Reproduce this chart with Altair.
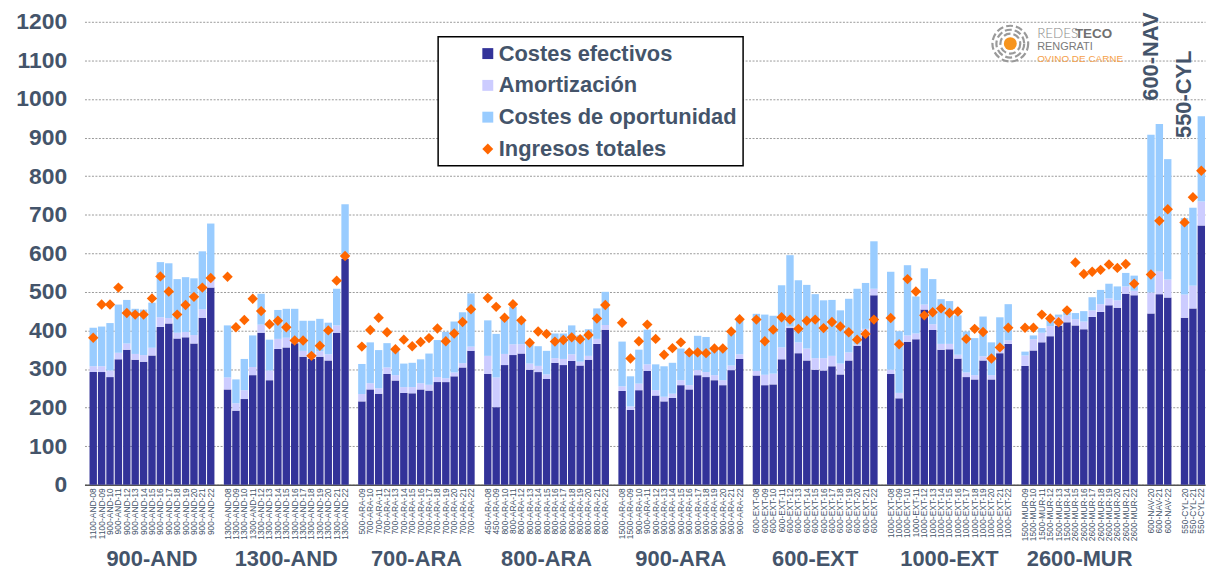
import altair as alt
import pandas as pd

# ---------------- data ----------------
grupos = ["900-AND", "1300-AND", "700-ARA", "800-ARA", "900-ARA",
          "600-EXT", "1000-EXT", "2600-MUR", "600-NAV", "550-CYL"]

cat_900_AND = ["1100-AND-08", "1100-AND-09"] + [f"900-AND-{a}" for a in range(10, 23)]
cat_1300_AND = [f"1300-AND-{a:02d}" for a in range(8, 23)]
cat_700_ARA = ["500-ARA-09"] + [f"700-ARA-{a}" for a in range(10, 23)]
cat_800_ARA = ["450-ARA-08", "450-ARA-09"] + [f"800-ARA-{a}" for a in range(10, 23)]
cat_900_ARA = ["1500-ARA-08", "1500-ARA-09"] + [f"900-ARA-{a}" for a in range(10, 23)]
cat_600_EXT = [f"600-EXT-{a:02d}" for a in range(8, 23)]
cat_1000_EXT = [f"1000-EXT-{a:02d}" for a in range(8, 23)]
cat_2600_MUR = [f"1500-MUR-{a:02d}" for a in range(9, 15)] + [f"2600-MUR-{a}" for a in range(15, 23)]
cat_600_NAV = ["600-NAV-20", "600-NAV-21", "600-NAV-22"]
cat_550_CYL = ["550-CYL-20", "550-CYL-21", "550-CYL-22"]

costes_efectivos = [
    292, 292, 279, 325, 350, 324, 319, 335, 409, 418, 379, 382, 366, 433, 511,
    247, 192, 222, 284, 394, 271, 352, 356, 367, 332, 326, 332, 322, 394, 585,
    216, 247, 236, 287, 270, 238, 237, 247, 244, 266, 266, 281, 304, 347,
    287, 201, 310, 336, 340, 298, 292, 274, 316, 310, 321, 309, 324, 365, 402,
    243, 194, 245, 295, 231, 216, 225, 258, 247, 284, 279, 271, 258, 297, 326,
    283, 258, 260, 325, 406, 341, 322, 298, 296, 307, 286, 322, 360, 387, 491,
    287, 224, 370, 377, 454, 401, 350, 351, 327, 279, 273, 322, 273, 341, 365,
    308, 348, 369, 385, 412, 421, 413, 403, 435, 448, 465, 459, 495, 491,
    444, 494, 485,
    433, 457, 672,
]

amortizacion = [
    15, 15, 17, 17, 16, 15, 17, 20, 25, 14, 15, 14, 22, 22, 17,
    31, 19, 23, 21, 21, 25, 26, 25, 6, 15, 15, 14, 16, 19, 8,
    19, 16, 14, 17, 14, 15, 16, 16, 15, 13, 10, 10, 11, 11,
    47, 77, 29, 28, 24, 16, 16, 12, 12, 16, 17, 10, 10, 13, 12,
    12, 9, 17, 17, 14, 12, 11, 13, 11, 13, 13, 13, 13, 12, 12,
    12, 27, 28, 31, 4, 28, 31, 30, 32, 27, 28, 21, 4, 17, 17,
    11, 14, 17, 15, 13, 15, 15, 14, 10, 12, 11, 11, 11, 9, 9,
    27, 29, 25, 26, 23, 18, 16, 20, 17, 20, 18, 19, 19, 12,
    54, 59, 47,
    60, 59, 62,
]

costes_oportunidad = [
    100, 103, 123, 125, 113, 117, 118, 117, 143, 142, 139, 142, 147, 150, 149,
    135, 62, 81, 82, 80, 80, 75, 75, 83, 78, 84, 84, 82, 95, 134,
    78, 106, 99, 63, 65, 61, 63, 62, 81, 96, 120, 132, 132, 138,
    92, 113, 94, 97, 58, 51, 51, 61, 64, 66, 75, 68, 69, 79, 86,
    116, 78, 88, 90, 67, 79, 80, 82, 83, 89, 91, 73, 86, 82, 88,
    148, 156, 150, 161, 185, 161, 165, 166, 150, 145, 138, 139, 144, 119, 123,
    254, 160, 182, 96, 94, 117, 116, 111, 102, 106, 96, 103, 85, 84, 94,
    10, 10, 12, 15, 6, 13, 16, 27, 34, 37, 38, 36, 35, 39,
    409, 382, 312,
    198, 202, 221,
]

ingresos_totales = [
    381, 467, 467, 511, 445, 441, 441, 483, 540, 501, 441, 466, 487, 511, 536,
    539, 408, 427, 482, 450, 416, 425, 408, 374, 374, 334, 360, 400, 529, 593,
    358, 401, 433, 395, 351, 376, 359, 370, 380, 405, 372, 392, 422, 455,
    484, 461, 433, 468, 426, 368, 397, 391, 371, 375, 382, 377, 388, 431, 466,
    420, 327, 372, 415, 378, 337, 354, 369, 343, 343, 341, 353, 353, 397, 429,
    428, 372, 402, 434, 428, 404, 425, 428, 406, 422, 410, 395, 376, 391, 428,
    432, 364, 533, 501, 439, 447, 457, 445, 449, 378, 404, 396, 327, 356, 407,
    407, 407, 441, 431, 421, 452, 576, 546, 552, 557, 571, 562, 572, 521,
    545, 684, 714,
    680, 745, 814,
]

series = ["Costes efectivos", "Amortización", "Costes de oportunidad", "Ingresos totales"]
colores = ["#333399", "#CCCCFF", "#99CCFF", "#FF6600"]

# ---------------- tables ----------------
listas = [cat_900_AND, cat_1300_AND, cat_700_ARA, cat_800_ARA, cat_900_ARA,
          cat_600_EXT, cat_1000_EXT, cat_2600_MUR, cat_600_NAV, cat_550_CYL]
dominio_x = []
categorias = []
for i, lst in enumerate(listas):
    if i > 0:
        dominio_x.append(f"gap{i}")
    dominio_x += lst
    categorias += lst

filas = []
for i, c in enumerate(categorias):
    filas.append({"cat": c, "serie": series[0], "valor": costes_efectivos[i], "orden": 0})
    filas.append({"cat": c, "serie": series[1], "valor": amortizacion[i], "orden": 1})
    filas.append({"cat": c, "serie": series[2], "valor": costes_oportunidad[i], "orden": 2})
df_bar = pd.DataFrame(filas)
df_ing = pd.DataFrame({"cat": categorias, "valor": ingresos_totales, "serie": series[3]})

# group labels (anchor = middle bar of each group)
odd_groups = pd.DataFrame({
    "cat": [cat_900_AND[7], cat_1300_AND[7], cat_800_ARA[7], cat_900_ARA[7],
            cat_600_EXT[7], cat_1000_EXT[7]],
    "g": ["900-AND", "1300-AND", "800-ARA", "900-ARA", "600-EXT", "1000-EXT"]})
even_groups = pd.DataFrame({
    "cat": [cat_700_ARA[7], cat_2600_MUR[7]],
    "g": ["700-ARA", "2600-MUR"]})

# ---------------- styling ----------------
FONT = "Liberation Sans"
SLATE = "#44546A"
W, H = 1128, 466

xscale = alt.Scale(domain=dominio_x, paddingInner=0.12, paddingOuter=0.3, align=1)
xaxis = alt.Axis(labelAngle=270, labelFontSize=8.5, labelColor=SLATE, labelFont=FONT,
                 labelPadding=3, labelOverlap=False, ticks=False, domainColor="#555555",
                 domainWidth=1.5, grid=False, title=None,
                 labelExpr="indexof(datum.value,'gap')==0 ? '' : datum.value")
X = alt.X("cat:N", scale=xscale, axis=xaxis, title=None)

yscale = alt.Scale(domain=[0, 1200], nice=False, zero=True)
yaxis = alt.Axis(values=list(range(0, 1300, 100)), format="d", labelFontSize=23,
                 labelFontWeight="bold", labelColor=SLATE, labelFont=FONT, domain=False,
                 ticks=False, tickSize=0, labelPadding=18, grid=True, gridColor="#999999",
                 gridDash=[2, 1.5], gridWidth=1, title=None)

cscale = alt.Scale(domain=series, range=colores)
sscale = alt.Scale(domain=series, range=["square", "square", "square", "diamond"])
leg = alt.Legend(orient="none", legendX=356, legendY=15, title=None, fillColor="white",
                 strokeColor="black", padding=6, symbolOffset=33, labelOffset=0,
                 labelFontSize=22, labelFont=FONT, labelFontWeight="bold",
                 labelColor=SLATE, rowPadding=10, symbolSize=121, symbolStrokeWidth=0,
                 labelLimit=400)

bars = alt.Chart(df_bar).mark_bar().encode(
    x=X,
    y=alt.Y("valor:Q", stack="zero", scale=yscale, axis=yaxis, title=None),
    color=alt.Color("serie:N", scale=cscale, legend=leg),
    order=alt.Order("orden:Q"),
)

points = alt.Chart(df_ing).mark_point(filled=True, size=110, opacity=1).encode(
    x=X,
    y=alt.Y("valor:Q", scale=yscale, axis=yaxis, title=None),
    color=alt.Color("serie:N", scale=cscale, legend=leg),
    shape=alt.Shape("serie:N", scale=sscale, legend=leg),
)

lab_odd = alt.Chart(odd_groups).mark_text(
    font=FONT, fontSize=22, fontWeight="bold", color=SLATE, baseline="middle", align="center"
).encode(x=X, y=alt.value(541), text="g:N")
lab_even = alt.Chart(even_groups).mark_text(
    font=FONT, fontSize=22, fontWeight="bold", color=SLATE, baseline="middle", align="center",
    dx=-4.2
).encode(x=X, y=alt.value(541), text="g:N")

nav = alt.Chart(pd.DataFrame({"cat": [cat_600_NAV[0]], "g": ["600-NAV"]})).mark_text(
    font=FONT, fontSize=22, fontWeight="bold", color=SLATE, angle=270,
    baseline="middle", align="center"
).encode(x=X, y=alt.value(35), text="g:N")
cyl = alt.Chart(pd.DataFrame({"cat": [cat_550_CYL[0]], "g": ["550-CYL"]})).mark_text(
    font=FONT, fontSize=22, fontWeight="bold", color=SLATE, angle=270,
    baseline="middle", align="center"
).encode(x=X, y=alt.value(73), text="g:N")

# logo
one = pd.DataFrame({"k": [0]})
ring_layers = []
for sz in [400, 784, 1296]:
    ring_layers.append(alt.Chart(one).mark_point(
        shape="circle", size=sz, filled=False, color="#9a9a9a", strokeWidth=2.2,
        strokeDash=[7, 3], opacity=1
    ).encode(x=alt.value(932), y=alt.value(22)))
dot = alt.Chart(one).mark_point(shape="circle", size=169, filled=True, color="#F7941D",
                                opacity=1).encode(x=alt.value(932), y=alt.value(22))
t1 = alt.Chart(pd.DataFrame({"t": ["REDES"]})).mark_text(
    font="Lato", fontSize=13.5, fontWeight=300, color="#8a8a8a", align="left",
    baseline="alphabetic").encode(x=alt.value(959), y=alt.value(16), text="t:N")
t2 = alt.Chart(pd.DataFrame({"t": ["TECO"]})).mark_text(
    font=FONT, fontSize=13.5, fontWeight="bold", color="#707070", align="left",
    baseline="alphabetic").encode(x=alt.value(997), y=alt.value(16), text="t:N")
t3 = alt.Chart(pd.DataFrame({"t": ["RENGRATI"]})).mark_text(
    font=FONT, fontSize=11, color="#7a7a7a", align="left",
    baseline="alphabetic").encode(x=alt.value(959), y=alt.value(28.5), text="t:N")
t4 = alt.Chart(pd.DataFrame({"t": ["OVINO DE CARNE"]})).mark_text(
    font=FONT, fontSize=10, color="#F5A04A", align="left",
    baseline="alphabetic").encode(x=alt.value(959), y=alt.value(40), text="t:N")

chart = alt.layer(
    bars, points, lab_odd, lab_even, nav, cyl, *ring_layers, dot, t1, t2, t3, t4
).properties(
    width=W, height=H,
    autosize=alt.AutoSizeParams(type="none"),
    padding={"left": 77, "top": 12, "right": 2, "bottom": 88},
).configure_view(strokeWidth=0).configure_legend(strokeWidth=1.5)

chart.save("out.html", embed_options={"renderer": "svg", "actions": False})
